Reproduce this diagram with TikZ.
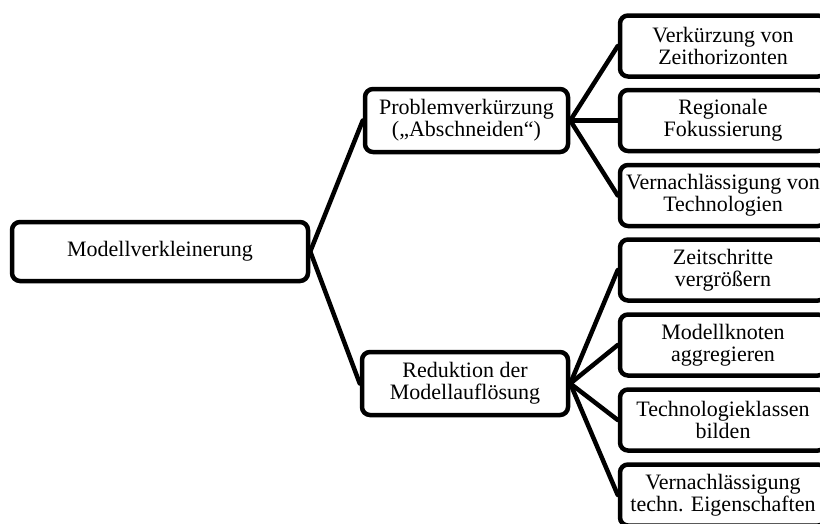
\documentclass[tikz,border=0pt]{standalone}
\usepackage{fontspec}
\setmainfont{Liberation Serif}
\begin{document}
\begin{tikzpicture}[x=1pt,y=-1pt,
  box/.style={draw,line width=4.5pt,rounded corners=8pt,align=center,inner sep=0pt,
    font=\fontsize{22}{22}\selectfont},
  leaf/.style={box,minimum width=206pt,minimum height=61pt},
  conn/.style={line width=4.5pt,line cap=round}]
\useasboundingbox (0,0) rectangle (820,523);
\clip (0,0) rectangle (820,523);
\node[box,minimum width=296pt,minimum height=59pt] (root) at (160,251.5) {Modellverkleinerung};
\node[box,minimum width=203pt,minimum height=63pt] (prob) at (466.5,120.5) {Problemverkürzung\\(„Abschneiden“)};
\node[box,minimum width=206pt,minimum height=63pt] (red) at (465,383.5) {Reduktion der\\Modellauflösung};
\node[leaf] (l1) at (723,46) {Verkürzung von\\Zeithorizonten};
\node[leaf] (l2) at (723,120.5) {Regionale\\Fokussierung};
\node[leaf] (l3) at (723,195.5) {Vernachlässigung von\\Technologien};
\node[leaf] (l4) at (723,270) {Zeitschritte\\vergrößern};
\node[leaf] (l5) at (723,345) {Modellknoten\\aggregieren};
\node[leaf] (l6) at (723,420) {Technologieklassen\\bilden};
\node[leaf] (l7) at (723,495) {Vernachlässigung\\techn. Eigenschaften};
\draw[conn] (root.east) -- (prob.west);
\draw[conn] (root.east) -- (red.west);
\foreach \n in {l1,l2,l3} \draw[conn] (prob.east) -- (\n.west);
\foreach \n in {l4,l5,l6,l7} \draw[conn] (red.east) -- (\n.west);
\end{tikzpicture}
\end{document}
